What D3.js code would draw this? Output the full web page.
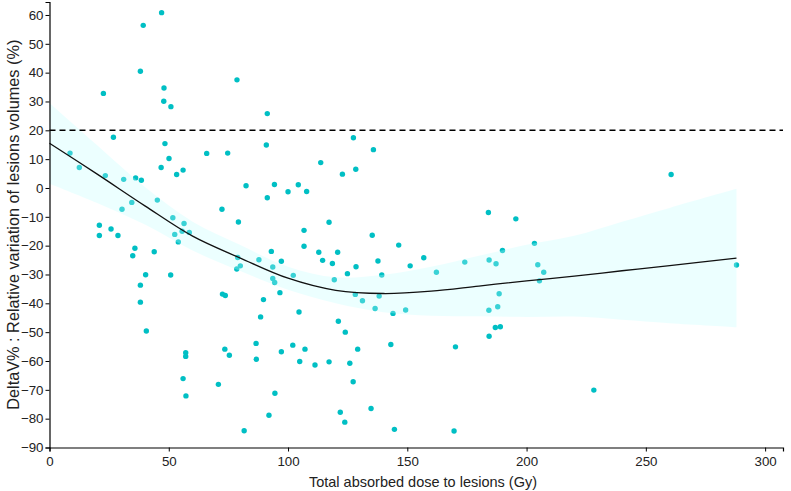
<!DOCTYPE html>
<html>
<head>
<meta charset="utf-8">
<script src="https://cdn.jsdelivr.net/npm/d3@7"></script>
<style>
  body { margin: 0; background: #fff; }
  svg text { font-family: "Liberation Sans", Arial, sans-serif; fill: #222; }
</style>
</head>
<body>
<div id="chart"></div>
<script>
// lesion data: dose (Gy) and relative volume variation (%)
const doseGy = [47.0, 39.3, 38.1, 22.6, 48.0, 47.9, 50.9, 26.8, 48.4, 8.6, 12.5, 46.8, 50.1, 23.4, 31.1, 36.1, 38.5, 53.3, 56.0, 45.2,
  20.9, 20.9, 25.8, 28.7, 30.4, 34.5, 51.7, 56.4, 52.5, 55.6, 58.6, 54.0, 35.8, 34.9, 43.9, 40.3, 50.8, 38.1, 38.1, 40.6,
  57.1, 57.1, 56.0, 57.2, 78.6, 91.3, 127.4, 65.9, 74.7, 90.9, 135.8, 113.7, 122.8, 128.4, 82.4, 94.3, 100.0, 104.3, 107.8, 91.3,
  72.3, 79.2, 106.7, 117.2, 106.7, 135.3, 93.0, 112.9, 120.8, 114.5, 118.6, 78.9, 87.8, 97.2, 137.7, 78.5, 80.0, 93.6, 128.5, 124.9,
  102.2, 93.6, 94.4, 119.4, 96.6, 128.2, 131.2, 136.5, 138.2, 72.5, 73.7, 89.7, 88.5, 104.6, 121.1, 124.0, 86.6, 73.5, 75.4, 86.7,
  97.2, 102.0, 107.1, 104.9, 111.3, 117.2, 125.9, 129.2, 127.3, 70.8, 94.5, 92.0, 81.6, 121.9, 123.8, 134.8, 139.3, 146.4, 156.9, 151.2,
  162.2, 174.1, 144.0, 149.3, 143.1, 170.2, 144.6, 169.6, 184.0, 195.5, 203.3, 184.3, 187.2, 189.9, 204.7, 207.2, 205.4, 188.5, 187.9, 184.2,
  186.9, 189.0, 184.3, 260.6, 288.0, 228.2];
const deltaV = [60.8, 56.4, 40.5, 32.8, 34.7, 30.1, 28.2, 17.6, 15.4, 12.1, 7.1, 7.1, 10.2, 4.3, 3.0, 3.5, 2.7, 4.7, 6.2, -4.2,
  -12.9, -16.5, -14.2, -16.5, -7.4, -5.0, -10.3, -12.3, -16.1, -15.0, -15.4, -18.7, -20.9, -23.5, -22.1, -30.1, -30.2, -33.7, -39.6, -49.6,
  -57.1, -58.4, -66.1, -72.1, 37.5, 25.8, 17.4, 12.0, 12.1, 14.9, 13.3, 8.8, 4.8, 6.5, 0.8, 1.2, -1.3, 1.1, -1.2, -3.4,
  -7.4, -11.8, -14.7, -11.9, -20.2, -16.4, -22.0, -22.3, -22.3, -25.1, -26.2, -24.1, -24.9, -25.4, -25.3, -28.1, -27.0, -27.4, -27.3, -29.7,
  -30.3, -31.4, -32.8, -31.8, -36.3, -36.9, -39.1, -41.8, -37.5, -36.8, -37.3, -38.7, -44.7, -43.0, -46.2, -50.0, -53.9, -55.9, -58.0, -59.4,
  -56.8, -54.5, -55.9, -60.2, -61.4, -60.3, -60.8, -55.9, -67.2, -68.1, -71.2, -78.8, -84.2, -77.8, -81.2, -76.5, -30.2, -19.8, -24.2, -27.0,
  -29.2, -25.7, -43.5, -42.3, -54.3, -55.1, -83.7, -84.3, -8.5, -10.7, -19.2, -25.0, -26.3, -21.7, -26.6, -29.2, -32.2, -36.7, -41.2, -42.4,
  -48.4, -48.1, -51.4, 4.7, -26.7, -70.1];

// smoothed fit with its confidence band
const fitX   = [0, 20, 40, 60, 80, 100, 120, 140, 160, 180, 200, 220, 240, 260, 288];
const fitY   = [15.5, 4.8, -6.2, -16.7, -24.3, -31.3, -35.5, -36.6, -35.8, -34.0, -32.2, -30.6, -28.7, -26.9, -24.3];
const fitHalf = [14, 10, 6.5, 5, 4.5, 4, 4.5, 6.5, 8.5, 10.5, 12.5, 14, 17, 20, 24];

const xTicks = [0, 50, 100, 150, 200, 250, 300];
const yTicks = d3.range(-90, 61, 10);
const threshold = 20;

const width = 791, height = 491;
const margin = {top: 2, right: 8, bottom: 43.5, left: 49.5};

const svg = d3.select('#chart')
    .append('svg')
    .attr('width', width)
    .attr('height', height);

const x = d3.scaleLinear().domain([0, 307.5]).range([margin.left, width - margin.right]);
const y = d3.scaleLinear().domain([-90, 64.5]).range([height - margin.bottom, margin.top]);

const points = doseGy.map((d, i) => ({dose: d, dv: deltaV[i]}));
const fit = fitX.map((d, i) => ({x: d, y: fitY[i], lo: fitY[i] - fitHalf[i], hi: fitY[i] + fitHalf[i]}));

// points first, ribbon goes over them like geom_smooth
svg.append('g').selectAll('circle')
    .data(points)
    .enter()
    .append('circle')
    .attr('cx', d => x(d.dose))
    .attr('cy', d => y(d.dv))
    .attr('r', 2.7)
    .style('fill', '#00bfc4');

const area = d3.area()
    .x(d => x(d.x))
    .y0(d => y(d.lo))
    .y1(d => y(d.hi))
    .curve(d3.curveCatmullRom);

svg.append('path')
    .datum(fit)
    .attr('d', area)
    .style('fill', 'rgb(192,255,255)')
    .style('fill-opacity', 0.3);

const line = d3.line()
    .x(d => x(d.x))
    .y(d => y(d.y))
    .curve(d3.curveCatmullRom);

svg.append('path')
    .datum(fit)
    .attr('d', line)
    .style('fill', 'none')
    .style('stroke', '#111')
    .style('stroke-width', 1.3);

// dashed 20% line
svg.append('line')
    .attr('x1', x(0))
    .attr('x2', width - margin.right)
    .attr('y1', y(threshold))
    .attr('y2', y(threshold))
    .style('stroke', '#000')
    .style('stroke-width', 1.5)
    .style('stroke-dasharray', '6,4');

const xAxis = svg.append('g')
    .attr('transform', `translate(0,${height - margin.bottom})`)
    .call(d3.axisBottom(x).tickValues(xTicks).tickSize(4).tickPadding(5));

const yAxis = svg.append('g')
    .attr('transform', `translate(${margin.left},0)`)
    .call(d3.axisLeft(y).tickValues(yTicks).tickSize(4).tickPadding(2));

[xAxis, yAxis].forEach(g => {
    g.select('.domain').style('stroke', '#000').style('stroke-width', 1.2);
    g.selectAll('.tick line').style('stroke', '#000');
    g.selectAll('.tick text').style('font-size', '13.3px').style('fill', '#222');
});

svg.append('text')
    .attr('x', 423)
    .attr('y', 487)
    .attr('text-anchor', 'middle')
    .style('font-size', '14.5px')
    .text('Total absorbed dose to lesions (Gy)');

svg.append('text')
    .attr('transform', `translate(19,${(margin.top + height - margin.bottom) / 2}) rotate(-90)`)
    .attr('text-anchor', 'middle')
    .style('font-size', '16.3px')
    .text('DeltaV% : Relative variation of lesions volumes (%)');
</script>
</body>
</html>
